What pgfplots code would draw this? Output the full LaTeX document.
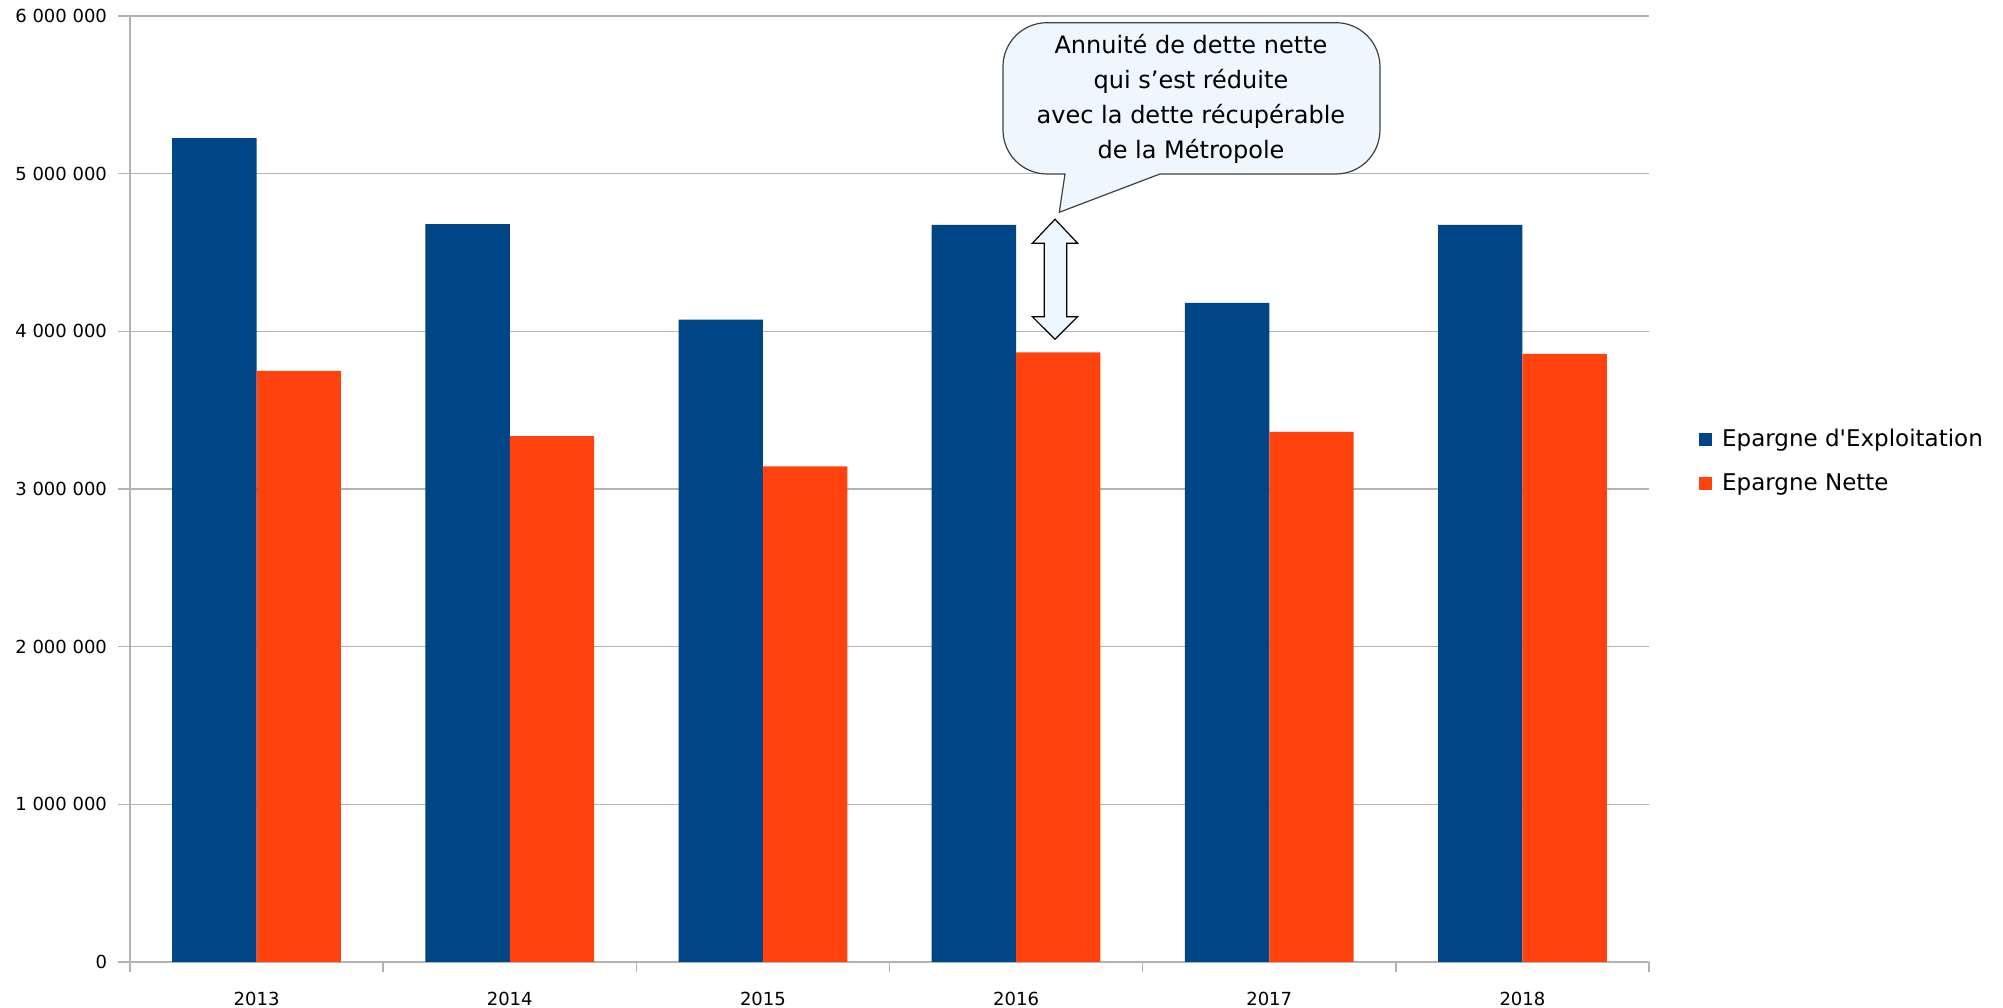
\documentclass[border=0pt]{standalone}
\usepackage{fontspec}
\setmainfont{DejaVu Sans}
\usepackage{pgfplots}
\pgfplotsset{compat=1.18}
\definecolor{eblue}{HTML}{004586}
\definecolor{eorange}{HTML}{FF420E}
\definecolor{gridc}{HTML}{B3B3B3}
\definecolor{callfill}{HTML}{EEF6FE}
\begin{document}
\begin{tikzpicture}
\useasboundingbox (0,0) rectangle (1001.5bp,504bp);
\begin{axis}[
  at={(65bp,23bp)}, anchor=south west,
  scale only axis, width=759.5bp, height=473bp,
  xmin=-0.5, xmax=5.5, ymin=0, ymax=6000000,
  axis x line=bottom, axis y line=left,
  axis line style={-, draw=gridc, line width=0.75bp},
  ytick={0,1000000,2000000,3000000,4000000,5000000,6000000},
  yticklabels={0,{1 000 000},{2 000 000},{3 000 000},{4 000 000},{5 000 000},{6 000 000}},
  xtick={0,1,2,3,4,5},
  xticklabels={2013,2014,2015,2016,2017,2018},
  minor xtick={-0.5,0.5,1.5,2.5,3.5,4.5,5.5},
  tick align=outside,
  major tick length=6bp, minor tick length=5bp,
  major x tick style={draw=none},
  minor x tick style={draw=gridc, line width=0.75bp},
  ytick style={draw=gridc, line width=0.75bp},
  ymajorgrids, grid style={draw=gridc, line width=0.75bp},
  tick label style={font=\fontsize{9bp}{11bp}\selectfont},
  xticklabel style={yshift=-5.5bp},
  yticklabel style={xshift=-2bp, inner ysep=0pt},
  legend style={draw=none, fill=none, at={(1.0329,0.529)}, anchor=west,
    font=\fontsize{11.5bp}{14bp}\selectfont, row sep=8bp, inner sep=0pt,
    nodes={inner xsep=5bp}},
  legend cell align=left,
  legend image code/.code={\fill[#1] (0bp,-3.2bp) rectangle (6.4bp,3.2bp);},
]
\addplot[ybar, fill=eblue, draw=none, bar width=42.2bp, bar shift=-21.1bp]
  coordinates {(0,5225000) (1,4680000) (2,4075000) (3,4675000) (4,4180000) (5,4675000)};
\addlegendentry{Epargne d\textquotesingle Exploitation}
\addplot[ybar, fill=eorange, draw=none, bar width=42.2bp, bar shift=21.1bp]
  coordinates {(0,3750000) (1,3335000) (2,3144000) (3,3866000) (4,3362000) (5,3857000)};
\addlegendentry{Epargne Nette}
\end{axis}
\begin{scope}[x=0.5bp,y=-0.5bp,shift={(0bp,504bp)}]
\draw[fill=callfill, draw=black!75, line width=0.6bp]
  (1065,174) -- (1059.3,212.3) -- (1160,174) [rounded corners=22bp] -- (1380,174) -- (1380,22.7) -- (1003,22.7) -- (1003,174) [sharp corners] -- cycle;
\node[align=center, font=\fontsize{12bp}{17.5bp}\selectfont, inner sep=0pt] at (1191,99)
  {Annuité de dette nette\\qui s’est réduite\\avec la dette récupérable\\de la Métropole};
\draw[fill=callfill, draw=black, line width=0.6bp]
  (1055,219.3) -- (1077.7,243.3) -- (1066.7,243.3) -- (1066.7,316.7) -- (1077.7,316.7)
  -- (1055,339.3) -- (1032.3,316.7) -- (1044.3,316.7) -- (1044.3,243.3) -- (1032.3,243.3) -- cycle;
\end{scope}
\end{tikzpicture}
\end{document}
